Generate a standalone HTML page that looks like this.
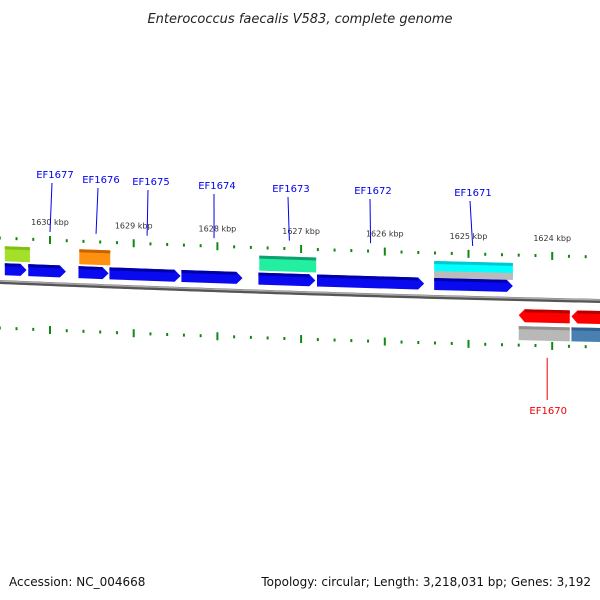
<!DOCTYPE html>
<html><head><meta charset="utf-8"><style>
body{margin:0;background:#fff}
svg{display:block;font-family:"DejaVu Sans","Liberation Sans",sans-serif}
</style></head><body>
<svg id="c" width="600" height="600" viewBox="0 0 600 600">
<text x="300" y="23" text-anchor="middle" font-size="13" font-style="italic" fill="#222">Enterococcus faecalis V583, complete genome</text>
<text x="9" y="586" font-size="12" fill="#111">Accession: NC_004668</text>
<text x="591" y="586" text-anchor="end" font-size="12" fill="#111">Topology: circular; Length: 3,218,031 bp; Genes: 3,192</text>
<g id="g"></g>
</svg>
<script>
const tickKbp=[1630,1629,1628,1627,1626,1625,1624];
const fwdGenes=[[1630.54,1630.28],[1630.26,1629.81],[1629.66,1629.30],[1629.29,1628.44],[1628.43,1627.70],[1627.51,1626.83],[1626.81,1625.53],[1625.41,1624.47]];
const fwdBoxes=[[1630.54,1630.24,"#a4e02a","#7fc010"],[1629.65,1629.28,"#ff9010","#c86400"],[1627.50,1626.82,"#22f0a0","#10a070"],[1625.41,1624.47,"#00ffff","#00c8d0"]];
const fwdGrey=[[1625.41,1624.47]];
const revGenes=[[1624.40,1623.79],[1623.77,1623.40]];
const revBoxes=[[1624.40,1623.79,"#b8b8b8","#909090"],[1623.77,1623.40,"#4a80b0","#306090"]];
const geneNames=["EF1677","EF1676","EF1675","EF1674","EF1673","EF1672","EF1671"];
const genePos=[1630.0,1629.45,1628.84,1628.04,1627.14,1626.17,1624.95];
const labelPos=[[55,175],[101,180],[151,182],[217,186],[291,189],[373,191],[473,193]];
const revName="EF1670",revPos=1624.06;

const X=k=>50+(1630-k)*83.7;
const Y=x=>282+0.04167*x-1.667e-5*x*x;
const NS="http://www.w3.org/2000/svg",G=document.getElementById('g');
function mk(t,a){const e=document.createElementNS(NS,t);for(const k in a)e.setAttribute(k,a[k]);G.appendChild(e);return e;}
function band(x1,x2,o1,o2){return `${x1},${Y(x1)+o1} ${x2},${Y(x2)+o1} ${x2},${Y(x2)+o2} ${x1},${Y(x1)+o2}`;}

let d="";for(let x=-5;x<=605;x+=5)d+=(x<0?"M":"L")+x+","+Y(x);
let e=mk('path',{d:d,stroke:"#555",'stroke-width':4,fill:"none"});

e=mk('path',{d:d,stroke:"#aaa",'stroke-width':1.5,fill:"none",transform:"translate(0,-1)"});


for(let k=1631;k>=1623;k-=0.2){const kk=Math.round(k*10)/10,x=X(kk);if(x<-2||x>602)continue;
 const major=Math.abs(kk-Math.round(kk))<0.01;const h=major?4:1.5;
 for(const off of[-44,46]){const y=Y(x)+off;
  e=mk('line',{x1:x,x2:x,y1:y-h,y2:y+h,stroke:"#118811",'stroke-width':2});
  }}
tickKbp.forEach(k=>{const x=X(k);
 e=mk('text',{x:x,y:Y(x)-59,'text-anchor':'middle','font-size':8,fill:"#333"});e.textContent=k+" kbp";
 });

fwdBoxes.forEach(b=>{const x1=X(b[0]),x2=X(b[1]);
 e=mk('polygon',{points:band(x1,x2,-36,-21),fill:b[2]});
 e=mk('polygon',{points:band(x1,x2,-36,-33),fill:b[3]});});
fwdGrey.forEach(b=>{const x1=X(b[0]),x2=X(b[1]);
 e=mk('polygon',{points:band(x1,x2,-26,-19),fill:"#bbb"});});
fwdGenes.forEach(g=>{const x1=X(g[0]),x2=X(g[1]),t=x2-6;
 const p=`${x1},${Y(x1)-19} ${t},${Y(t)-19} ${x2},${Y(x2)-13} ${t},${Y(t)-7} ${x1},${Y(x1)-7}`;
 e=mk('polygon',{points:p,fill:"#0a0af0"});
 e=mk('polygon',{points:band(x1,t,-19,-16),fill:"#0000a8"});});
revGenes.forEach(g=>{const x1=X(g[0]),x2=X(g[1]),t=x1+6;
 const p=`${x1},${Y(x1)+16} ${t},${Y(t)+10} ${x2},${Y(x2)+10} ${x2},${Y(x2)+23} ${t},${Y(t)+23}`;
 e=mk('polygon',{points:p,fill:"#ff0000"});
 e=mk('polygon',{points:band(t,x2,10,13),fill:"#b80000"});});
revBoxes.forEach(b=>{const x1=X(b[0]),x2=X(b[1]);
 e=mk('polygon',{points:band(x1,x2,27,41),fill:b[2]});
 e=mk('polygon',{points:band(x1,x2,27,30),fill:b[3]});});

geneNames.forEach((n,i)=>{const x=X(genePos[i]);const [lx,ly]=labelPos[i];
 e=mk('line',{x1:lx-3,y1:ly+8,x2:x,y2:Y(x)-52,stroke:"#0000ee",'stroke-width':1});
 
 e=mk('text',{x:lx,y:ly+3,'text-anchor':'middle','font-size':10,fill:"#0000ee"});e.textContent=n;
 });
{const x=X(revPos);
 e=mk('line',{x1:x,y1:Y(x)+58,x2:x,y2:400,stroke:"#ee0000",'stroke-width':1});
 
 e=mk('text',{x:x+1,y:414,'text-anchor':'middle','font-size':10,fill:"#ee0000"});e.textContent=revName;
 }
</script>
</body></html>
